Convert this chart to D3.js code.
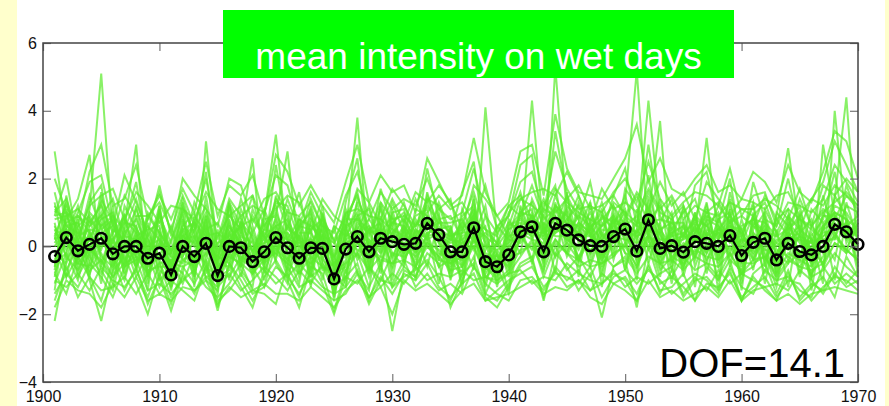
<!DOCTYPE html>
<html><head><meta charset="utf-8">
<script src="https://cdn.jsdelivr.net/npm/d3@7"></script>
<style>html,body{margin:0;padding:0;background:#ffffcc;} svg{display:block}</style>
</head><body><svg id="c" width="889" height="406"></svg>
<script>
const years = d3.range(1901, 1971);
const xTicks = [1900, 1910, 1920, 1930, 1940, 1950, 1960, 1970];
const yTicks = [-4, -2, 0, 2, 4, 6];
const titleText = "mean intensity on wet days";
const dofText = "DOF=14.1";

// black mean series 1901-1970
const meanSeries = [
 -0.30, 0.26, -0.13, 0.06, 0.24, -0.22, 0.00, 0.00, -0.35, -0.20,
 -0.84, 0.00, -0.30, 0.09, -0.86, 0.00, -0.04, -0.45, -0.16, 0.26,
 -0.04, -0.35, -0.04, -0.06, -0.96, -0.08, 0.29, -0.16, 0.24, 0.14,
 0.06, 0.09, 0.68, 0.34, -0.16, -0.16, 0.55, -0.45, -0.60, -0.25,
 0.43, 0.58, -0.16, 0.68, 0.48, 0.19, 0.02, 0.00, 0.29, 0.51,
 -0.14, 0.78, -0.06, 0.02, -0.17, 0.14, 0.09, 0.00, 0.32, -0.27,
 0.12, 0.24, -0.40, 0.09, -0.15, -0.25, 0.00, 0.65, 0.43, 0.06
];

// individual station series (green), estimated
const stations = [
[2.8,0.4,-0.6,1.1,5.1,0.3,-0.8,0.9,-0.2,0.5,-1.2,0.7,0.1,-0.5,-1.4,1.0,0.2,-0.9,0.6,1.2,-0.3,-1.1,0.8,0.4,-1.5,0.2,1.3,-0.6,0.9,-0.4,0.6,-0.7,1.4,0.1,-0.9,0.5,1.1,-1.0,-0.2,-1.3,1.2,0.3,-0.8,5.3,0.9,-0.5,0.7,-0.9,1.0,0.2,-1.0,1.5,0.4,-0.7,0.6,-0.3,1.1,-0.5,0.8,-1.1,0.9,-0.2,-1.2,0.7,0.3,-0.9,0.5,1.4,4.4,-0.3],
[0.3,1.2,0.5,-0.7,-0.4,-1.1,0.6,3.0,-0.9,0.1,-0.5,-0.8,0.9,0.4,-0.6,-0.3,1.1,0.2,-1.0,0.6,0.8,0.1,-0.7,1.0,-0.4,0.9,-0.2,0.5,-0.8,1.1,-0.3,0.8,0.2,1.3,0.4,-1.1,0.3,0.6,-1.2,0.4,-0.2,1.4,0.6,-0.3,1.2,0.8,-0.6,0.4,-0.1,1.3,5.2,0.2,-0.9,0.8,-0.5,1.0,-0.8,0.6,-0.2,0.5,-0.7,1.1,0.4,-0.4,1.0,0.2,-1.1,4.0,0.6,0.9],
[-1.1,-0.2,0.9,0.6,1.3,-0.5,0.4,-0.6,0.7,-0.9,0.2,1.0,-1.2,3.1,-0.2,0.7,-0.5,0.9,0.3,-0.4,1.1,-0.6,0.3,-1.0,0.6,-0.8,0.5,1.2,0.0,0.7,1.0,0.4,-0.6,0.8,0.9,0.2,-0.7,4.1,0.3,-0.5,0.6,-0.4,1.1,0.9,-0.3,0.5,1.3,-0.2,0.8,-0.7,0.5,4.3,0.9,0.3,1.1,-0.6,0.4,-1.0,1.2,0.3,1.2,-0.5,0.8,1.1,-0.8,0.6,0.2,-0.4,1.3,0.2],
[0.7,-0.9,-0.3,0.3,0.8,1.0,-0.4,0.2,-1.3,1.1,-0.9,0.3,0.6,-0.8,0.5,-1.0,0.8,-0.2,0.9,3.3,0.1,0.6,1.0,-0.5,-0.9,0.4,3.8,-0.3,0.6,-1.2,-0.6,1.1,0.9,-0.2,-0.4,0.9,1.2,-0.7,0.6,0.2,0.9,1.1,-0.5,1.3,0.2,1.0,-0.3,0.9,0.5,1.0,-0.4,0.8,3.7,-0.5,0.3,0.9,0.6,1.0,-0.6,0.8,-0.3,0.7,-0.8,0.5,0.9,-0.6,1.0,0.4,-0.2,1.1],
[-0.5,0.8,1.4,2.7,-0.6,0.4,0.9,-0.7,0.4,-0.3,0.6,-0.4,-0.2,0.9,-1.1,0.5,-0.9,0.6,-0.5,0.9,2.8,-0.3,0.5,0.8,0.2,-1.0,0.9,0.3,1.1,0.3,0.9,-0.4,1.5,0.6,-0.2,-0.8,0.9,0.2,-0.8,0.8,0.3,4.3,0.4,0.6,1.0,-0.4,0.8,-0.6,1.2,0.6,0.9,-0.1,0.4,1.0,-0.9,0.4,3.2,0.2,0.7,-0.8,0.5,1.0,-0.3,0.9,-0.5,1.1,0.7,1.0,0.8,-0.5],
[0.2,0.5,-0.9,-0.2,0.6,-0.8,1.2,0.5,0.1,-1.0,-0.6,1.2,0.4,-0.3,0.3,0.9,0.5,2.6,-0.8,0.2,-0.6,0.9,-0.4,0.3,-1.2,1.1,0.2,-0.9,0.4,0.9,-0.1,0.7,0.5,1.0,-1.0,0.3,0.5,-1.2,0.2,-0.9,1.1,0.2,0.9,0.4,0.8,1.2,0.3,-0.3,0.9,-0.2,-0.7,1.2,-0.4,0.6,-0.2,1.0,-0.5,0.8,1.0,-0.4,0.3,-0.8,0.9,2.9,0.4,-1.0,3.0,0.9,0.4,0.6],
[-2.2,-0.4,0.2,-1.0,-2.2,-0.7,-0.3,-1.1,-2.0,-0.8,-1.7,-0.6,-1.1,-0.4,-1.8,-0.5,-1.0,-1.6,-0.9,-0.4,-1.0,-1.8,-0.6,-0.8,-1.9,-0.7,-0.2,-1.2,-0.5,-2.5,-0.7,-0.9,-0.2,-0.5,-1.8,-1.0,-0.3,-1.4,-1.6,-1.1,-0.5,-0.3,-1.6,-0.2,-0.6,-1.3,-0.8,-2.1,-0.6,-0.4,-1.8,0.0,-1.1,-0.9,-1.2,-1.6,-0.6,-1.0,-0.4,-1.6,-0.8,-0.5,-1.4,-0.7,-1.6,-1.2,-0.9,-1.5,-0.3,-0.9],
[-1.4,-0.8,-1.2,-0.5,-0.9,-1.5,-0.6,-0.4,-1.3,-1.1,-1.4,-1.0,-0.7,-1.2,-1.5,-1.1,-0.5,-1.3,-1.4,-1.7,-0.6,-1.2,-1.0,-1.3,-1.6,-1.4,-0.8,-1.7,-1.0,-1.1,-0.4,-1.2,-0.8,-1.3,-1.1,-1.4,-0.6,-1.1,-1.4,-1.6,-1.0,-0.9,-1.3,-0.7,-1.2,-1.0,-1.3,-0.8,-1.1,-0.9,-1.4,-0.6,-1.3,-1.2,-0.8,-1.6,-1.1,-1.2,-0.8,-1.5,-1.2,-0.9,-1.5,-1.0,-1.1,-1.6,-1.2,-0.9,-1.0,-1.3],
[-0.6,0.9,0.2,-0.4,0.7,0.1,-0.6,0.5,-0.8,0.3,-1.3,0.4,-0.5,0.8,-1.2,0.2,0.6,-0.7,0.1,0.8,-0.2,-0.5,0.6,0.2,-1.3,0.5,1.0,-0.4,0.8,0.5,0.3,0.6,1.2,0.7,0.4,-0.3,1.4,-0.6,-0.9,0.1,1.0,1.3,0.2,1.5,0.6,0.4,1.0,0.3,0.6,1.5,0.2,1.3,0.1,-0.2,0.4,0.7,0.3,0.5,0.9,-0.6,0.7,0.4,-0.7,0.3,0.6,-0.2,0.5,1.2,1.0,0.4],
[0.4,0.1,-0.4,0.8,-0.3,-0.6,0.3,1.1,0.2,-0.5,-0.4,-0.3,0.5,1.2,-0.6,-0.4,0.3,0.1,-0.6,1.5,0.5,0.3,-0.9,0.7,-0.5,-0.3,0.6,0.2,-0.2,0.4,0.8,0.2,0.4,-0.6,0.2,0.6,-0.1,0.9,-0.3,-0.6,0.2,0.7,1.4,0.6,1.5,0.1,0.5,1.0,-0.4,0.8,0.3,2.1,-0.2,0.5,-0.6,0.2,1.2,-0.3,0.4,0.1,0.9,-0.3,0.1,0.6,-0.9,0.3,0.8,2.2,0.1,0.7],
[1.2,0.6,0.7,-0.1,1.6,-0.3,-1.0,0.3,0.5,0.6,-0.8,0.8,-0.8,0.2,-0.4,1.2,-0.3,-0.5,0.4,0.1,0.3,-0.9,0.2,-0.6,-0.8,0.7,1.6,-0.1,-0.3,0.8,-0.4,0.3,0.7,0.2,-0.7,0.4,0.8,0.1,-1.0,0.6,0.8,0.5,-0.1,1.1,0.3,-0.3,0.2,0.6,0.9,0.3,-0.3,1.0,0.6,-0.4,0.1,-0.2,0.5,0.3,0.6,0.5,-0.4,0.5,-0.2,-0.5,0.4,0.8,-0.6,1.5,0.9,-0.2],
[-0.2,-0.5,0.3,0.5,0.4,0.6,0.1,-0.3,-0.5,-0.2,-0.5,-0.2,0.3,-0.6,-0.9,0.4,0.9,-0.2,0.7,-0.3,0.6,0.2,-0.3,1.2,-0.7,-0.5,0.4,0.8,0.3,-0.6,0.5,-0.1,0.9,0.5,0.6,-0.5,0.7,-0.2,-0.4,0.3,0.4,0.9,0.5,0.8,0.7,0.6,-0.5,0.7,0.2,0.9,0.6,0.5,-0.6,0.9,-0.3,0.6,-0.2,0.8,0.2,-0.2,-0.1,0.9,-0.9,0.2,0.2,-0.5,0.3,0.6,0.5,0.3],
[0.9,1.0,-0.2,0.2,1.0,-0.1,0.5,-0.2,0.3,-0.7,-1.0,0.1,-0.3,0.5,-0.7,-0.2,-0.6,0.4,-0.3,0.5,-0.5,0.4,0.4,-0.2,-0.6,0.1,0.3,-0.8,1.3,0.2,0.2,0.9,1.1,-0.4,-0.5,0.1,0.9,-0.4,-0.5,-0.2,0.5,0.4,0.3,0.9,0.1,0.7,0.4,-0.4,0.3,0.2,0.1,0.6,0.2,0.2,-0.7,0.8,0.1,-0.2,0.3,-0.9,0.4,0.1,-0.5,0.8,-0.3,0.4,-0.2,0.9,0.3,0.8],
[-0.8,0.2,-0.5,-0.6,0.1,0.2,0.7,0.6,-0.4,0.8,-0.3,-0.5,0.2,-0.1,-0.3,0.6,0.1,-0.8,-0.2,0.7,-0.8,-0.1,0.9,-0.3,-1.0,-0.4,0.7,0.4,0.5,-0.3,0.4,-0.2,0.3,0.9,-0.6,0.7,0.3,-0.9,-0.6,0.5,0.7,0.6,-0.2,0.5,0.4,-0.1,0.6,0.2,0.7,1.1,-0.5,0.4,-0.3,0.4,0.6,-0.4,0.7,-0.6,0.5,-0.1,0.2,0.6,-0.1,-0.3,-0.6,0.0,0.4,0.5,0.7,-0.6],
[0.1,0.7,0.9,0.4,-0.2,-0.9,-0.2,0.1,0.6,0.2,-0.7,0.5,0.0,0.6,-0.5,-0.6,0.4,-0.4,-0.7,0.4,0.2,-0.6,0.1,0.5,-0.3,0.6,-0.4,0.1,-0.1,0.6,-0.2,0.4,0.6,0.3,0.1,0.2,0.6,-0.3,-0.3,-0.4,0.6,0.8,-0.4,1.2,0.9,0.5,-0.2,0.5,0.4,0.7,0.4,0.9,0.3,-0.1,-0.4,0.3,-0.4,0.2,1.4,-0.3,0.6,0.3,-0.6,0.1,0.5,-0.4,0.6,1.0,0.2,0.5],
[-0.4,0.4,0.1,1.5,0.5,0.8,-0.5,0.4,-0.6,-0.3,-0.2,0.9,-0.6,0.4,-0.8,0.3,-0.1,-0.3,0.5,0.4,0.4,-0.4,-0.2,0.3,-1.1,0.3,0.5,-0.5,0.5,0.1,0.6,0.1,0.8,0.1,-0.2,-0.6,1.0,-0.5,-0.7,0.0,0.4,0.2,0.1,0.7,0.5,0.3,0.1,0.2,0.6,0.4,-0.2,0.7,-0.5,0.1,0.2,0.5,0.2,0.4,-0.1,0.2,0.1,-0.1,-0.2,0.4,-0.2,0.2,0.1,0.8,0.6,0.3],
[0.5,-0.3,-0.7,0.0,-0.5,0.5,0.2,-0.5,0.9,0.4,-0.9,0.2,0.3,-0.4,-1.0,-0.2,0.7,0.3,-0.4,0.3,-0.4,0.6,0.5,-0.7,-0.5,0.2,-0.1,-0.3,0.2,0.3,0.1,-0.5,0.4,0.5,0.3,0.4,0.4,-0.7,-0.2,-0.7,0.3,0.9,-0.6,0.6,0.2,0.0,0.5,-0.3,0.5,0.5,0.1,0.3,0.0,0.3,0.4,-0.3,0.4,0.1,0.2,0.3,-0.2,0.2,-0.4,0.6,0.1,-0.8,-0.3,0.6,0.5,0.0],
[-0.7,1.5,-0.1,0.6,0.9,-0.4,0.4,0.8,-0.1,0.0,-0.5,-0.6,-0.4,0.7,-0.6,0.6,0.0,-0.1,0.2,0.6,0.0,-0.2,0.7,0.1,-0.7,0.0,0.4,0.6,0.1,0.5,-0.5,0.5,0.2,0.4,-0.3,-0.4,0.2,-0.3,-0.8,-0.1,0.9,0.4,0.4,0.5,1.1,0.2,-0.1,0.1,0.8,0.6,-0.1,0.5,0.4,-0.3,0.0,0.6,0.0,0.5,0.4,0.0,0.2,0.5,0.1,-0.1,0.3,0.1,0.9,0.9,0.4,0.4],
[1.6,0.2,1.0,1.9,2.1,0.6,2.1,1.3,0.4,1.8,0.3,2.0,1.5,1.1,0.6,2.0,1.8,0.7,1.4,1.6,1.0,0.9,1.3,0.6,0.4,1.5,2.2,0.8,1.6,1.1,1.4,1.2,2.0,1.1,0.8,1.0,2.3,0.9,0.4,0.9,1.9,2.2,1.0,2.8,1.7,1.1,1.2,1.0,1.6,2.0,1.3,2.5,1.4,0.9,1.3,1.6,1.5,1.2,2.3,0.9,1.5,1.6,0.6,1.3,1.2,1.0,1.4,2.4,1.9,1.3],
[1.0,1.4,0.3,1.2,1.5,1.7,0.8,1.6,1.2,0.7,1.2,1.1,0.8,1.6,1.1,0.9,1.2,1.5,0.6,1.1,1.5,1.3,0.4,1.4,0.9,0.6,1.7,1.3,0.6,1.4,0.7,1.6,1.3,1.8,1.3,0.5,1.8,1.4,0.9,0.3,1.4,1.6,1.7,1.5,2.2,1.5,0.7,1.7,1.1,1.3,1.0,1.7,1.1,1.5,0.8,1.2,1.0,0.9,1.3,1.1,1.1,1.4,1.2,0.8,1.7,0.6,1.8,1.5,2.0,1.6],
[-1.0,-1.2,-0.8,-1.3,-0.6,-1.0,-1.2,-0.7,-1.5,-0.5,-1.5,-0.9,-1.3,-0.9,-1.2,-0.8,-1.3,-1.0,-0.6,-0.9,-1.3,-0.7,-1.1,-0.5,-1.2,-0.9,-1.1,-0.6,-1.2,-0.8,-1.1,-0.6,-1.0,-0.8,-0.9,-0.7,-1.0,-0.9,-1.1,-0.8,-0.7,-1.1,-0.9,-1.0,-0.5,-0.8,-1.0,-1.1,-0.7,-1.2,-0.9,-1.1,-0.8,-0.6,-1.4,-0.9,-1.3,-0.7,-1.1,-0.8,-1.0,-1.2,-1.1,-1.3,-0.7,-1.0,-1.4,-0.8,-1.2,-1.0],
[-0.9,0.6,0.4,-0.3,-0.8,0.2,-0.6,-0.1,-0.7,-0.6,-0.6,0.5,-0.7,0.3,-0.4,0.1,-0.4,-0.6,-0.1,-0.2,0.7,-0.3,-0.5,-0.1,-0.8,-0.6,0.1,-0.1,-0.4,-0.5,0.0,-0.3,0.1,-0.1,-0.5,-0.3,0.0,-0.8,-0.4,-0.3,-0.2,0.1,-0.3,0.2,-0.2,-0.6,-0.4,-0.5,-0.3,0.1,-0.6,0.2,-0.7,-0.3,-0.5,-0.1,-0.3,-0.4,0.0,-0.5,-0.5,-0.3,-0.8,-0.2,-0.4,-0.6,0.0,0.3,-0.1,-0.4],
[0.6,-0.1,0.6,0.9,0.3,-0.2,0.9,-0.4,-0.3,1.0,-0.2,0.6,1.0,-0.2,0.1,0.3,0.6,-0.4,0.3,-0.1,0.4,0.0,0.0,0.8,-0.2,0.8,0.8,0.0,0.3,0.0,0.3,0.2,0.5,0.7,0.7,0.8,0.1,0.4,0.1,0.7,0.5,0.3,0.7,0.3,0.3,0.9,0.6,0.8,1.2,0.1,0.7,0.7,0.8,0.7,0.7,0.1,0.8,0.6,0.1,0.6,0.8,0.7,0.3,0.5,0.8,0.5,0.2,0.2,1.2,1.0],
[-0.3,0.3,-0.3,0.2,-0.1,0.9,-0.1,-0.6,0.2,-0.4,-0.9,-0.1,0.7,0.0,-0.9,-0.7,0.2,-0.4,0.8,0.9,-0.1,0.5,-0.6,0.6,-1.4,0.4,0.1,0.5,0.7,-0.2,-0.3,0.0,0.7,0.2,0.0,0.0,0.5,0.3,-0.5,0.2,0.1,0.6,0.0,0.4,0.6,0.4,-0.2,0.3,0.1,0.6,0.2,0.9,0.1,0.1,0.0,0.3,-0.1,-0.1,0.6,0.4,-0.1,0.8,-0.3,0.0,0.3,-0.3,0.5,0.7,0.3,0.1],
[0.0,0.5,0.1,0.3,0.2,-0.3,0.3,0.2,0.0,0.2,-0.3,0.3,0.1,0.2,-0.1,0.4,-0.2,0.0,0.1,0.3,0.2,0.1,0.2,0.0,-0.3,0.2,0.4,0.1,0.4,0.2,0.1,0.3,0.3,0.4,0.2,0.1,0.3,0.0,-0.1,0.1,0.5,0.5,0.2,0.6,0.4,0.3,0.3,0.1,0.4,0.5,0.3,0.5,0.2,0.2,0.3,0.2,0.2,0.4,0.3,0.2,0.2,0.4,0.0,0.3,0.2,0.1,0.3,0.6,0.4,0.3],
[0.8,0.9,1.1,0.7,1.2,0.4,1.5,0.9,0.9,1.3,0.5,1.5,0.6,2.0,0.2,1.4,0.9,1.2,1.0,2.1,1.8,0.6,1.6,0.9,0.1,1.0,1.1,0.9,0.8,1.7,1.2,0.6,1.0,1.5,1.1,1.3,0.7,1.8,0.5,1.2,1.5,0.8,1.3,1.0,1.4,1.8,1.1,1.2,1.5,0.9,1.6,1.1,1.9,1.2,1.6,0.8,1.9,1.4,0.9,1.4,1.3,1.1,1.5,1.6,0.9,1.4,1.2,1.8,1.5,1.1],
[-1.6,-0.6,-1.5,-0.9,-1.3,-1.2,-0.9,-1.4,-0.8,-1.4,-1.0,-1.3,-1.6,-0.6,-1.6,-1.3,-0.8,-1.4,-1.2,-0.6,-0.9,-1.4,-0.8,-1.2,-1.4,-1.2,-0.7,-1.5,-0.9,-1.4,-0.8,-1.0,-0.5,-1.2,-1.5,-1.1,-0.8,-1.6,-1.3,-1.0,-0.8,-0.6,-1.2,-0.8,-0.9,-1.1,-0.6,-1.5,-0.9,-0.7,-1.1,-0.7,-1.0,-1.4,-1.1,-0.8,-1.0,-1.4,-0.6,-1.2,-1.4,-0.7,-1.0,-0.9,-1.3,-1.5,-0.6,-1.1,-0.8,-1.1],
[0.3,-0.7,0.0,-0.8,0.0,0.1,0.8,0.4,-0.9,0.4,-0.1,0.0,-0.9,0.9,-0.3,-0.5,0.5,-0.7,-0.3,0.0,-0.7,0.3,-0.8,0.4,-0.6,0.1,0.2,-0.7,0.6,-0.7,0.5,-0.6,0.0,-0.3,0.5,-0.2,1.1,-0.4,0.1,-0.5,0.2,1.0,-0.4,0.1,-0.2,0.7,0.4,-0.7,0.2,0.0,0.5,0.0,0.5,0.0,-0.2,0.4,0.9,0.7,-0.4,-0.7,0.4,-0.4,0.2,0.2,0.4,-0.1,-0.5,0.4,-0.1,0.7],
[1.3,-0.4,0.8,-0.9,1.4,0.7,-0.5,1.2,-0.4,1.0,-0.2,1.3,-0.9,1.5,-0.5,0.8,-0.6,1.1,0.2,1.4,0.9,-0.8,1.2,0.1,-0.3,-1.1,1.4,0.6,-0.6,1.0,1.1,-0.2,1.6,0.4,-0.8,1.1,0.3,1.2,-0.7,0.6,1.6,0.4,1.2,1.8,-0.2,1.3,0.5,1.1,-0.3,1.7,1.2,0.3,1.4,-0.6,1.2,0.2,1.3,-0.4,1.6,0.3,1.3,-0.6,1.0,0.6,1.2,-0.3,1.5,0.2,1.8,0.9],
[-1.3,1.1,-0.8,0.5,-1.1,1.2,-0.9,0.3,-1.1,1.2,-1.1,-0.3,0.8,-1.0,-1.3,1.3,-0.7,-1.2,1.0,-0.5,-1.1,0.8,-1.2,0.9,-1.6,0.6,-0.8,-1.3,1.2,-1.0,0.8,-1.0,0.4,-1.1,0.6,-1.3,1.5,-1.4,-0.6,-1.4,0.5,-0.5,0.7,-0.8,1.6,-0.9,1.3,-1.2,0.8,-0.7,1.1,-0.5,0.7,-1.1,0.8,-1.2,0.9,-1.3,1.1,-1.3,1.0,-1.1,0.5,-1.2,0.9,-1.3,0.7,-1.0,0.8,-0.8],
[0.9,2.0,0.1,1.3,1.8,-0.2,0.7,1.9,-0.1,1.2,-0.6,1.1,0.4,2.2,-0.3,1.2,0.4,1.5,-0.2,2.4,0.5,1.6,-0.1,0.9,-0.6,1.3,2.6,-0.2,1.7,0.6,1.3,0.2,2.3,0.8,0.4,1.6,2.5,-0.1,0.6,0.9,2.4,2.7,0.3,3.4,1.5,0.8,1.9,0.3,1.5,2.3,0.6,3.0,0.7,1.4,0.2,1.8,2.2,0.7,2.0,-0.1,1.9,0.8,0.6,2.0,0.5,1.4,1.9,3.1,2.4,1.6],
[-0.8,-1.4,-0.3,-0.9,-1.6,-0.4,-1.3,-0.6,-1.7,-0.9,-1.9,-0.8,-1.4,-0.6,-1.9,-0.5,-1.2,-1.8,-0.7,-1.1,-0.8,-1.5,-0.4,-1.1,-2.0,-0.9,-0.5,-1.6,-0.6,-1.2,-0.9,-0.7,-0.4,-0.9,-1.6,-0.8,-0.5,-1.5,-1.8,-1.2,-0.6,-0.4,-1.5,-0.6,-1.0,-0.7,-1.3,-1.1,-0.8,-1.0,-1.6,-0.5,-1.4,-0.7,-1.5,-1.0,-0.9,-1.3,-0.7,-1.6,-0.9,-1.3,-1.6,-0.8,-1.5,-1.1,-1.3,-0.6,-1.1,-0.7],
[0.5,0.3,1.2,-0.3,0.9,1.4,0.2,-0.2,0.8,1.6,0.4,-0.2,1.3,0.5,0.7,-0.1,1.4,0.4,1.1,0.2,1.4,0.5,1.1,-0.4,0.6,0.3,0.9,1.1,-0.2,1.3,0.4,1.4,0.6,1.1,1.4,-0.1,0.8,0.5,0.3,1.2,0.9,1.8,0.8,1.1,0.7,1.5,0.4,1.3,0.2,0.8,1.5,0.7,1.2,0.5,1.0,1.4,0.3,1.2,0.7,0.9,0.6,1.5,0.8,0.3,1.4,0.6,1.1,0.8,1.5,1.2],
[-0.5,-0.2,-1.0,0.4,-0.7,-1.3,0.1,-0.9,-0.2,-1.2,-0.4,-1.1,-0.2,-0.9,-0.8,-0.9,-0.3,-0.6,-1.2,0.1,-0.9,-0.5,-0.9,-0.6,-0.9,-1.2,0.3,-0.6,-1.0,-0.2,-0.6,-0.9,0.2,-0.6,-0.4,-0.9,0.4,-0.6,-1.0,-0.8,-0.3,0.2,-0.9,0.0,-0.7,-0.3,-0.9,-0.2,-0.6,-0.3,-0.8,-0.3,-0.5,-0.9,-0.3,-0.7,-0.5,-0.9,-0.2,-0.8,-0.6,0.0,-1.0,-0.5,-0.2,-0.9,-0.7,-0.2,-0.6,-0.9],
[1.1,0.7,-0.2,0.8,0.3,0.2,0.9,-0.3,1.0,0.4,-0.1,0.5,0.7,0.3,0.4,0.1,0.7,-0.1,0.5,1.0,0.2,0.8,0.6,0.3,0.1,0.6,0.8,0.5,0.2,0.7,0.6,0.1,0.9,0.4,0.3,0.5,0.9,0.3,0.0,0.5,1.0,0.9,0.4,1.2,0.8,0.6,0.3,0.9,0.7,0.6,0.4,1.1,0.5,0.7,0.3,0.8,0.6,0.2,0.9,0.5,0.8,0.4,0.3,0.9,0.5,0.2,0.6,1.0,0.8,0.5],
[-0.1,-0.9,0.5,-0.5,0.3,-0.6,-0.1,0.6,-0.6,0.1,-0.6,0.3,-0.4,0.5,-0.7,0.2,-0.4,0.2,-0.5,-0.1,-0.4,0.3,-0.1,-0.4,-0.8,0.1,-0.3,0.2,-0.5,0.4,-0.2,0.5,0.0,-0.4,0.3,-0.6,0.2,-0.5,-0.1,-0.6,0.3,-0.1,0.5,-0.3,0.1,-0.4,0.2,-0.4,0.4,-0.2,-0.3,0.3,-0.2,0.4,-0.6,0.3,-0.2,0.5,-0.3,0.2,-0.4,0.3,-0.5,0.4,-0.3,0.2,-0.6,0.1,-0.2,0.2],
[2.0,1.0,0.6,2.2,3.0,1.2,1.4,2.4,0.8,1.5,0.8,1.7,1.0,2.5,0.9,1.8,1.5,2.1,0.9,2.7,2.2,1.2,1.8,1.2,0.7,1.9,3.0,1.3,2.1,1.6,1.8,1.0,2.6,1.9,1.2,1.5,3.2,1.6,0.9,1.3,2.8,3.0,1.5,3.9,2.3,1.6,1.5,1.4,2.0,2.6,3.6,1.9,2.6,1.7,1.5,2.0,2.4,1.6,1.8,1.4,2.2,1.9,1.3,2.4,1.6,1.3,2.2,3.4,3.1,2.0],
[-1.8,-1.0,-1.3,-1.4,-1.8,-1.1,-1.5,-0.9,-1.6,-1.4,-1.6,-1.2,-1.3,-1.0,-1.7,-1.2,-1.5,-1.3,-1.1,-1.4,-1.4,-1.6,-1.2,-1.5,-1.8,-1.3,-1.0,-1.5,-1.2,-2.0,-1.0,-1.3,-1.1,-1.4,-1.7,-1.3,-1.1,-1.6,-1.5,-1.4,-1.2,-1.0,-1.4,-1.2,-1.3,-1.0,-1.5,-1.7,-1.1,-1.3,-1.6,-1.0,-1.5,-1.3,-1.6,-1.4,-1.2,-1.5,-1.0,-1.6,-1.3,-1.2,-1.6,-1.4,-1.7,-1.4,-1.3,-1.2,-1.3,-1.4],
[0.2,1.3,-0.4,1.0,0.6,0.9,0.5,1.4,0.3,0.9,0.1,1.4,0.2,1.0,0.0,1.3,0.6,0.8,0.3,1.3,1.2,0.2,1.4,0.6,0.2,0.9,1.5,0.4,1.3,0.8,0.9,0.6,1.4,1.2,0.2,0.7,1.6,0.5,0.1,1.0,1.4,1.2,0.9,1.7,1.3,1.0,0.8,0.6,1.3,1.0,0.7,1.6,1.0,0.8,1.2,0.4,1.0,1.3,0.7,1.1,0.9,1.3,0.4,1.1,0.8,0.6,1.0,1.3,1.6,1.2],
[-0.6,0.2,-0.5,-0.1,-0.4,-0.9,-0.5,-0.3,-0.8,-0.5,-1.2,-0.4,-0.6,-0.2,-1.1,-0.3,-0.5,-0.8,-0.4,-0.2,-0.5,-0.8,-0.3,-0.6,-1.3,-0.5,-0.2,-0.7,-0.3,-0.5,-0.4,-0.6,0.1,-0.3,-0.7,-0.6,0.0,-0.9,-1.0,-0.7,-0.1,0.0,-0.7,0.2,-0.2,-0.4,-0.6,-0.5,-0.2,0.0,-0.6,0.3,-0.5,-0.4,-0.7,-0.3,-0.5,-0.6,-0.2,-0.8,-0.4,-0.3,-0.9,-0.4,-0.6,-0.7,-0.5,0.1,-0.1,-0.4]
];

const W = 889, H = 406;
const svg = d3.select("#c");
const font = "'Liberation Sans', Arial, Helvetica, sans-serif";

// white figure area over the yellow slide background
svg.append("rect").attr("x", 17).attr("y", 0).attr("width", 868).attr("height", H).attr("fill", "#ffffff");

const m = {left: 43, right: 858, top: 43, bottom: 382};
const x = d3.scaleLinear().domain([1900, 1970]).range([m.left, m.right]);
const y = d3.scaleLinear().domain([-4, 6]).range([m.bottom, m.top]);

// zero line
svg.append("line")
  .attr("x1", m.left).attr("x2", m.right)
  .attr("y1", y(0)).attr("y2", y(0))
  .attr("stroke", "#222").attr("stroke-width", 1.2);

const line = d3.line().x((d, i) => x(years[i])).y(d => y(d));

const gGreen = svg.append("g");
gGreen.selectAll("path").data(stations).join("path")
  .attr("d", line)
  .attr("fill", "none")
  .attr("stroke", "rgb(92,236,45)")
  .attr("stroke-opacity", 0.72)
  .attr("stroke-width", 2)
  .attr("stroke-linejoin", "miter");

// black mean line with circles
svg.append("path").datum(meanSeries)
  .attr("d", line)
  .attr("fill", "none")
  .attr("stroke", "#000")
  .attr("stroke-width", 2.2);

svg.append("g").selectAll("circle").data(meanSeries).join("circle")
  .attr("cx", (d, i) => x(years[i]))
  .attr("cy", d => y(d))
  .attr("r", 5.3)
  .attr("fill", "none")
  .attr("stroke", "#000")
  .attr("stroke-width", 2.6);

// axes (ticks inward on all sides)
function styleAxis(g) {
  g.select(".domain").remove();
  g.selectAll(".tick line").attr("stroke", "#777").attr("stroke-width", 1.2);
  g.selectAll(".tick text").attr("fill", "#111").style("font-family", font).style("font-size", "16px");
}
svg.append("g").attr("transform", `translate(0,${m.bottom})`)
  .call(d3.axisBottom(x).tickValues(xTicks).tickFormat(d3.format("d")).tickSizeInner(-8).tickSizeOuter(0).tickPadding(9))
  .call(styleAxis);
svg.append("g").attr("transform", `translate(0,${m.top})`)
  .call(d3.axisTop(x).tickValues(xTicks).tickFormat("").tickSizeInner(-8).tickSizeOuter(0))
  .call(styleAxis);
svg.append("g").attr("transform", `translate(${m.left},0)`)
  .call(d3.axisLeft(y).tickValues(yTicks).tickFormat(d => d < 0 ? "\u2212" + Math.abs(d) : String(d)).tickSizeInner(-8).tickSizeOuter(0).tickPadding(6))
  .call(styleAxis);
svg.append("g").attr("transform", `translate(${m.right},0)`)
  .call(d3.axisRight(y).tickValues(yTicks).tickFormat("").tickSizeInner(-8).tickSizeOuter(0))
  .call(styleAxis);

// frame
svg.append("rect")
  .attr("x", m.left).attr("y", m.top)
  .attr("width", m.right - m.left).attr("height", m.bottom - m.top)
  .attr("fill", "none").attr("stroke", "#444").attr("stroke-width", 1.5);

// title box
svg.append("rect").attr("x", 223).attr("y", 10).attr("width", 511).attr("height", 68).attr("fill", "#00ff00");
svg.append("text").attr("x", 478.5).attr("y", 69)
  .attr("text-anchor", "middle")
  .attr("fill", "#ffffff")
  .style("font-family", font).style("font-size", "37px")
  .text(titleText);

// DOF label
svg.append("text").attr("x", 845).attr("y", 377)
  .attr("text-anchor", "end")
  .attr("fill", "#000")
  .style("font-family", font).style("font-size", "40px")
  .text(dofText);
</script>
</body></html>
